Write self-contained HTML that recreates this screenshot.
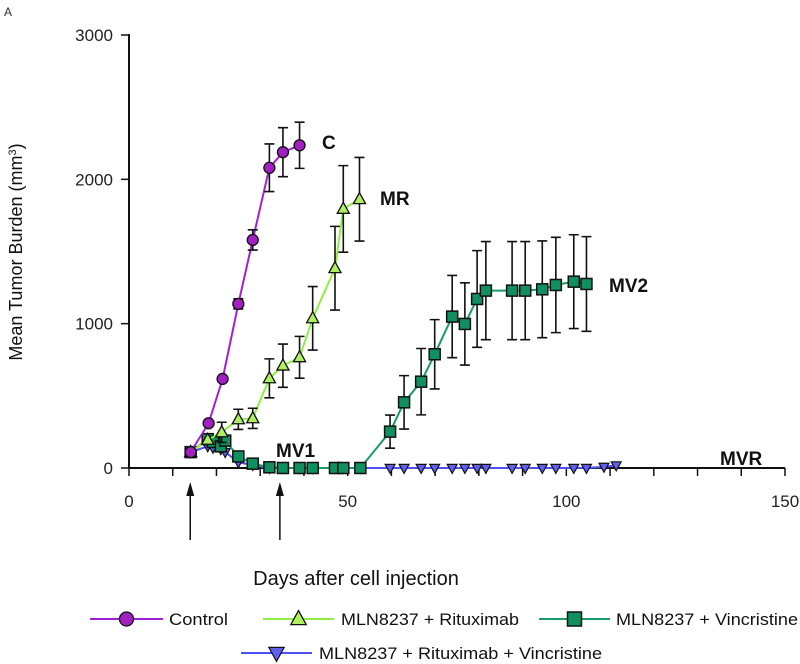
<!DOCTYPE html>
<html><head><meta charset="utf-8"><style>
body{margin:0;background:#fff}
svg{display:block;font-family:"Liberation Sans",Arial,sans-serif}
</style></head><body>
<svg id="chart" width="800" height="664" viewBox="0 0 800 664">
<text x="4" y="16" font-size="12" fill="#333">A</text>
<g id="axes"></g>
<g id="series"></g>
<text transform="translate(22,252) rotate(-90)" text-anchor="middle" font-size="18" fill="#111">Mean Tumor Burden (mm<tspan dy="-6" font-size="11">3</tspan><tspan dy="6">)</tspan></text>
<text x="356" y="585" text-anchor="middle" font-size="20" fill="#111">Days after cell injection</text>
<g id="legend"></g>
</svg>
<script>
const days = {
 C:[14.1,18.2,21.4,25,28.3,32.1,35.2,39],
 MR:[14.1,18,21.2,25,28.3,32.1,35.2,39,42,47.1,49,52.7],
 MV:[14.1,18,19.2,21,22,25,28.3,32.1,35.2,39,42,47.1,49,52.9,59.7,62.9,66.8,69.9,73.9,76.8,79.6,81.6,87.6,90.6,94.5,97.6,101.7,104.6],
 MVR:[14.1,18,19.2,21,22,25,28.3,32.1,35.2,39,42,47.1,49,52.9,59.7,62.9,66.8,69.9,73.9,76.8,79.6,81.6,87.6,90.6,94.5,97.6,101.7,104.6,108.6,111.4]
};
const vals = {
 C:[110,310,617,1137,1580,2080,2188,2236],
 MR:[110,195,247,337,344,621,709,767,1037,1384,1795,1862],
 MV:[110,200,180,150,190,80,30,5,0,0,0,0,0,0,252,455,598,788,1049,998,1171,1229,1229,1229,1238,1268,1291,1275],
 MVR:[110,150,140,130,110,40,20,0,0,0,0,0,0,0,0,0,0,0,0,0,0,0,0,0,0,0,0,0,8,18]
};
const errs = {
 C:[0,0,0,35,70,165,170,160],
 MR:[0,0,70,70,70,135,150,145,220,290,300,290],
 MV:[0,0,0,0,0,0,0,0,0,0,0,0,0,0,115,185,230,240,285,285,335,340,340,340,335,330,325,328]
};
const xTicks=[0,50,100,150];
const yTicks=[0,1000,2000,3000];
const NS='http://www.w3.org/2000/svg';
const X0=129,X1=785,Y0=468,Y1=35;
const sx=d=>X0+(d/150)*(X1-X0);
const sy=v=>Y0-(v/3000)*(Y0-Y1);
function mk(tag,attrs,parent){const e=document.createElementNS(NS,tag);for(const k in attrs)e.setAttribute(k,attrs[k]);parent.appendChild(e);return e;}
const axes=document.getElementById('axes');
let l=mk('line',{x1:X0,y1:Y1-1,x2:X0,y2:Y0,stroke:'#111','stroke-width':2},axes);


l=mk('line',{x1:X0,y1:Y0,x2:X1,y2:Y0,stroke:'#111','stroke-width':2},axes);


for(let d=0;d<=150;d+=10){mk('line',{x1:sx(d),y1:Y0,x2:sx(d),y2:Y0+8,stroke:'#111','stroke-width':1.5},axes);}
yTicks.forEach(v=>{mk('line',{x1:X0-8,y1:sy(v),x2:X0,y2:sy(v),stroke:'#111','stroke-width':1.5},axes);});
xTicks.forEach(t=>{const e=mk('text',{x:sx(t),y:Y0+39,'text-anchor':'middle','font-size':17,fill:'#222'},axes);e.textContent=t;

});
yTicks.forEach(t=>{const e=mk('text',{x:X0-16,y:sy(t)+6,'text-anchor':'end','font-size':17,fill:'#222'},axes);e.textContent=t;

});
[14,34.5].forEach(d=>{const g=mk('g',{},axes);


mk('line',{x1:sx(d),y1:540,x2:sx(d),y2:492,stroke:'#111','stroke-width':1.5},g);
mk('path',{d:`M${sx(d)-4},496 L${sx(d)},482 L${sx(d)+4},496 Z`,fill:'#111'},g);});

const colors={C:'#a020d8',MR:'#90ee40',MV:'#1a9a6a',MVR:'#5050f0'};
const fills={C:'#a020c0',MR:'#b0f060',MV:'#109060',MVR:'#6060ee'};
function marker(k,x,y,p,s){
 if(k==='C')return mk('circle',{cx:x,cy:y,r:s,fill:fills[k],stroke:'#111','stroke-width':1.3},p);
 if(k==='MR')return mk('path',{d:`M${x},${y-s*1.2} L${x+s*1.1},${y+s*0.8} L${x-s*1.1},${y+s*0.8} Z`,fill:fills[k],stroke:'#111','stroke-width':1.3},p);
 if(k==='MV')return mk('rect',{x:x-s,y:y-s,width:2*s,height:2*s,fill:fills[k],stroke:'#111','stroke-width':1.5},p);
 return mk('path',{d:`M${x-s*1.1},${y-s*0.8} L${x+s*1.1},${y-s*0.8} L${x},${y+s*1.2} Z`,fill:fills[k],stroke:'#111','stroke-width':1.2},p);
}
const ser=document.getElementById('series');
['MVR','MV','MR','C'].forEach(k=>{
 const g=mk('g',{},ser);
 
 
 const pts=days[k].map((d,i)=>sx(d)+','+sy(vals[k][i])).join(' ');
 mk('polyline',{points:pts,fill:'none',stroke:colors[k],'stroke-width':2},g);
 if(errs[k])days[k].forEach((d,i)=>{const e=errs[k][i];if(!e)return;const x=sx(d);
  mk('path',{d:`M${x},${sy(vals[k][i]-e)} V${sy(vals[k][i]+e)} M${x-5},${sy(vals[k][i]+e)} H${x+5} M${x-5},${sy(vals[k][i]-e)} H${x+5}`,stroke:'#111','stroke-width':1.6,fill:'none'},g);});
 days[k].forEach((d,i)=>{const m=marker(k,sx(d),sy(vals[k][i]),g,k==='MVR'?4.5:5.5);
  
  });
});
[['C',322,149],['MR',380,205],['MV2',609,292],['MV1',276,457],['MVR',720,465]].forEach(([t,x,y])=>{
 const e=mk('text',{x:x,y:y,'font-size':19,'font-weight':'bold',fill:'#111'},ser);e.textContent=t;
 
 });

const leg=document.getElementById('legend');
[['C','Control',90,163,169,625,59],['MR','MLN8237 + Rituximab',263,334,341,625,178],['MV','MLN8237 + Vincristine',539,610,616,625,182],['MVR','MLN8237 + Rituximab + Vincristine',241,312,319,659,283]].forEach(([k,t,a,b,tx,y,w])=>{
 const g=mk('g',{},leg);
 
 
 mk('line',{x1:a,y1:y-6,x2:b,y2:y-6,stroke:colors[k],'stroke-width':2},g);
 marker(k,(a+b)/2,y-6,g,7);
 const e=mk('text',{x:tx,y:y,'font-size':17,fill:'#111',textLength:w,lengthAdjust:'spacingAndGlyphs'},g);e.textContent=t;
});
</script>
</body></html>
